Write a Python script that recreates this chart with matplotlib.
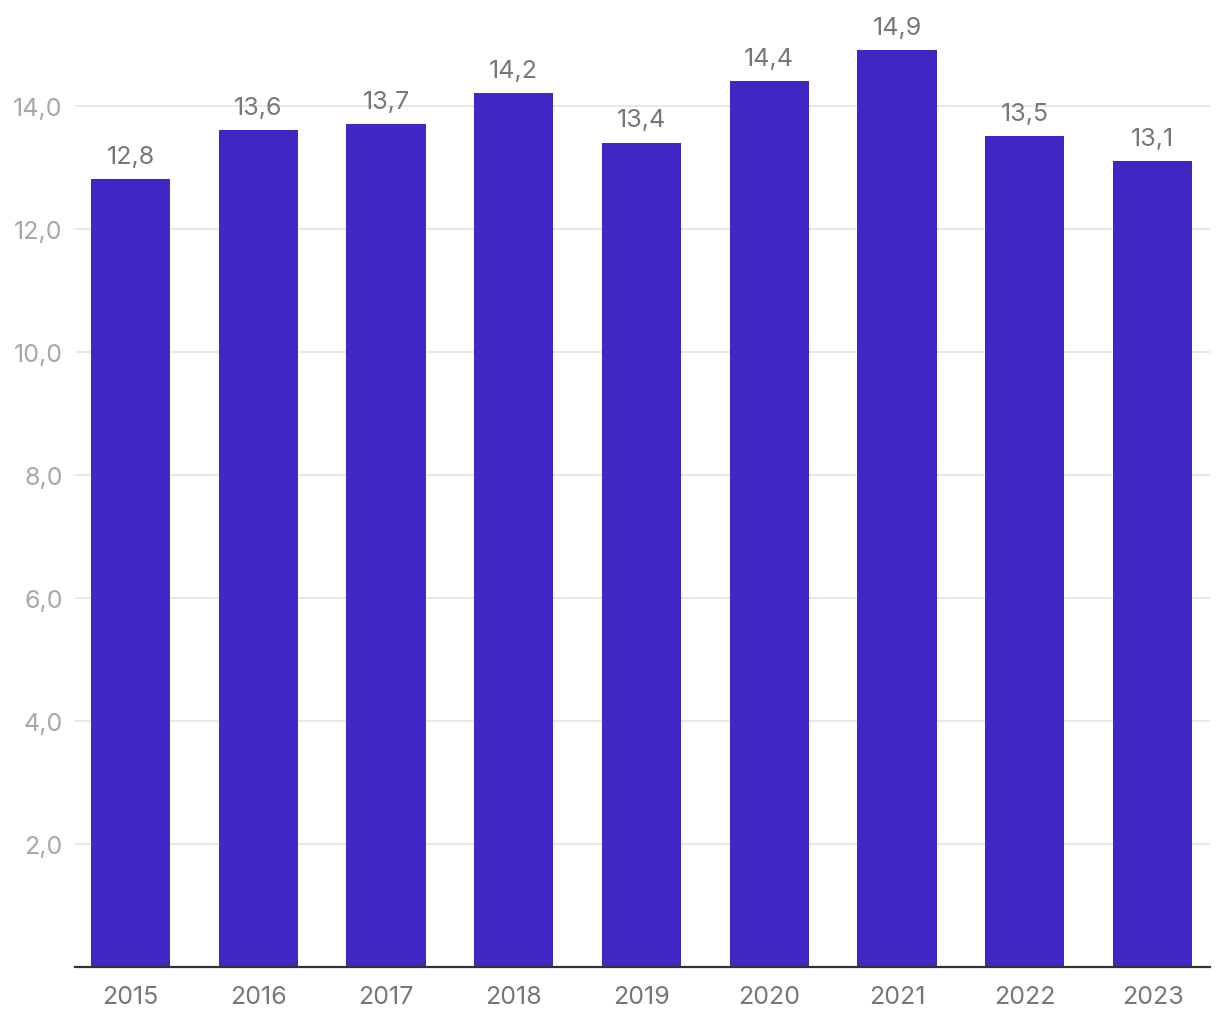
import matplotlib
matplotlib.use("Agg")
import matplotlib.pyplot as plt
from matplotlib.ticker import FixedLocator

years = ["2015", "2016", "2017", "2018", "2019", "2020", "2021", "2022", "2023"]
values = [12.8, 13.6, 13.7, 14.2, 13.4, 14.4, 14.9, 13.5, 13.1]
yticks = [2.0, 4.0, 6.0, 8.0, 10.0, 12.0, 14.0]

def fmt(v):
    return f"{v:.1f}".replace(".", ",")

plt.rcParams['font.family'] = ['Inter', 'DejaVu Sans']

fig = plt.figure(figsize=(12.2, 10.2), dpi=100)
bottom_px = 968
ax = fig.add_axes([75/1220, 1 - bottom_px/1020, (1210-75)/1220, (bottom_px - 2)/1020])

x = list(range(len(years)))
ax.bar(x, values, width=0.62, color="#4226C6", zorder=3)

ax.set_ylim(0, 15.7 * (bottom_px - 2) / 966)
ax.set_xlim(-0.434, 8.45)
ax.yaxis.set_major_locator(FixedLocator(yticks))
ax.set_yticklabels([fmt(t) for t in yticks], fontsize=18, color="#a8a8a8")
ax.grid(axis="y", color="#e6e6e6", linewidth=1.3, zorder=0)
ax.set_xticks(x)
ax.set_xticklabels(years, fontsize=18, color="#777777")
ax.tick_params(axis="both", length=0)
ax.tick_params(axis="x", pad=13)
ax.tick_params(axis="y", pad=9)

for s in ["top", "right", "left"]:
    ax.spines[s].set_visible(False)
ax.spines["bottom"].set_color("#333333")
ax.spines["bottom"].set_linewidth(1.6)
ax.spines["bottom"].set_zorder(4)

for xi, v in zip(x, values):
    ax.annotate(fmt(v), (xi, v), xytext=(0, 8), textcoords="offset points",
                ha="center", va="bottom", fontsize=18, color="#777777")

fig.savefig("out.png", dpi=100)
